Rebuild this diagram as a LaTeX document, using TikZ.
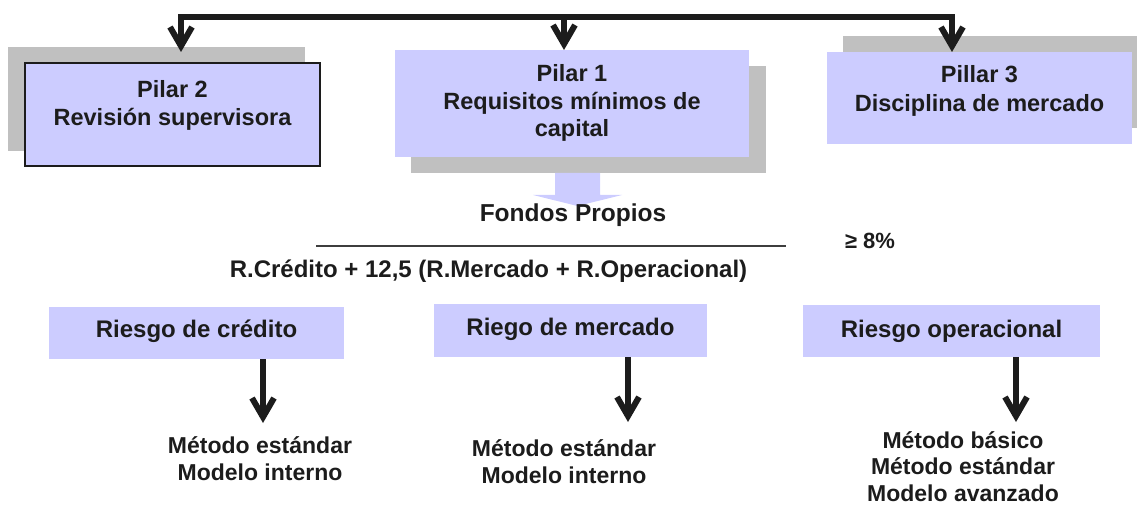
\documentclass[tikz,border=0pt]{standalone}
\usepackage{fontspec}
\setmainfont{Liberation Sans}
\usetikzlibrary{arrows.meta}
\definecolor{lav}{RGB}{204,204,255}
\definecolor{shade}{RGB}{192,192,192}
\definecolor{ink}{RGB}{28,28,28}
\tikzset{
  shadowbox/.style={fill=shade, draw=none, inner sep=0},
  frontbox/.style={fill=lav, draw=none, inner sep=0},
  txt/.style={text=ink, inner sep=0, align=center, font=\bfseries\fontsize{23.5}{28.5}\selectfont},
  smalltxt/.style={text=ink, inner sep=0, align=center, font=\bfseries\fontsize{23}{26.5}\selectfont},
  conn/.style={draw=ink, line width=6pt},
  arr/.style={draw=ink, line width=6pt, -{Straight Barb[length=19pt,width=22pt]}},
}
\begin{document}
\begin{tikzpicture}[x=1pt,y=-1pt]
\useasboundingbox (0,0) rectangle (1137,505);
% shadows
\node[shadowbox, minimum width=297, minimum height=104] (p2s) at (156.5,99) {};
\node[shadowbox, minimum width=355, minimum height=107] (p1s) at (588.5,119.5) {};
\node[shadowbox, minimum width=294, minimum height=92] (p3s) at (990,82) {};
% front boxes
\node[frontbox, draw=ink, line width=1.5pt, minimum width=295, minimum height=103] (p2) at (172.5,114.5) {};
\node[frontbox, minimum width=354, minimum height=107] (p1) at (572,103.5) {};
\node[frontbox, minimum width=305, minimum height=92] (p3) at (979.5,98) {};
% texts in pillars (base = last line)
\node[txt, anchor=base] (p2t) at (172.5,126) {Pilar 2\\Revisión supervisora};
\node[txt, anchor=base, font=\bfseries\fontsize{23.5}{27.5}\selectfont] (p1t) at (572,137) {Pilar 1\\Requisitos mínimos de\\capital};
\node[txt, anchor=base, font=\bfseries\fontsize{23.5}{29}\selectfont] (p3t) at (979.5,112) {Pillar 3\\Disciplina de mercado};
% top connector
\coordinate (b1) at (564,17);
\coordinate (b2) at (181,17);
\coordinate (b3) at (952,17);
\coordinate (t2) at (181,52);
\coordinate (t1) at (564,50);
\coordinate (t3) at (952,52);
\draw[arr] (b1) -- (b2) -- (t2);
\draw[arr] (b1) -- (b3) -- (t3);
\draw[arr] (b1) -- (t1);
% fat arrow
\fill[lav] (555,173) -- (600,173) -- (600,195) -- (622,195) -- (577.5,206) -- (533,195) -- (555,195) -- cycle;
\node[txt, anchor=base, font=\bfseries\fontsize{24.5}{30}\selectfont] (fp) at (573,222) {Fondos Propios};
% fraction
\coordinate (fl) at (316,246);
\coordinate (fr) at (786,246);
\draw[draw=ink!85, line width=1.5pt] (fl) -- (fr);
\node[txt, anchor=base, font=\bfseries\fontsize{22}{26}\selectfont] (ge) at (870,248) {≥ 8\%};
\node[txt, anchor=base, font=\bfseries\fontsize{24}{28}\selectfont] (den) at (488.5,277) {R.Crédito + 12,5 (R.Mercado + R.Operacional)};
% risk boxes
\node[frontbox, minimum width=295, minimum height=52] (r1) at (196.5,333) {};
\node[frontbox, minimum width=273, minimum height=53] (r2) at (570.5,330.5) {};
\node[frontbox, minimum width=297, minimum height=52] (r3) at (951.5,331) {};
\node[smalltxt, anchor=base, font=\bfseries\fontsize{24}{28}\selectfont] (r1t) at (196.5,337) {Riesgo de crédito};
\node[smalltxt, anchor=base, font=\bfseries\fontsize{24}{28}\selectfont] (r2t) at (570.5,335) {Riego de mercado};
\node[smalltxt, anchor=base, font=\bfseries\fontsize{24}{28}\selectfont] (r3t) at (951.5,337) {Riesgo operacional};
% down arrows
\coordinate (m1) at (263,423);
\coordinate (m2) at (628,422);
\coordinate (m3) at (1016,422);
\draw[arr] (r1.south -| m1) -- (m1);
\draw[arr] (r2.south -| m2) -- (m2);
\draw[arr] (r3.south -| m3) -- (m3);
% methods (base = last line)
\node[smalltxt, anchor=base] (k1) at (260,480) {Método estándar\\Modelo interno};
\node[smalltxt, anchor=base] (k2) at (564,483) {Método estándar\\Modelo interno};
\node[smalltxt, anchor=base] (k3) at (963,501) {Método básico\\Método estándar\\Modelo avanzado};
\end{tikzpicture}
\end{document}
